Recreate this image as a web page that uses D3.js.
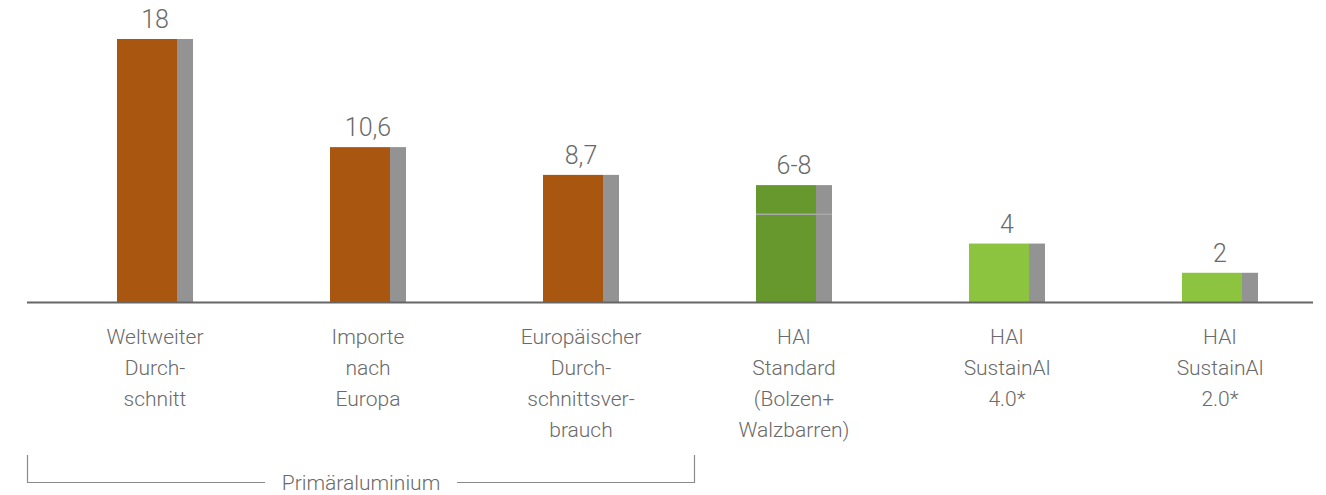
<!DOCTYPE html>
<html><head><meta charset="utf-8">
<script src="https://cdn.jsdelivr.net/npm/d3@7"></script>
<style>html,body{margin:0;padding:0;background:#fff;}svg{display:block;}</style>
</head><body>
<svg id="c" width="1326" height="495"></svg>
<script>
const categories = ["Weltweiter|Durch-|schnitt","Importe|nach|Europa","Europäischer|Durch-|schnittsver-|brauch","HAI|Standard|(Bolzen+|Walzbarren)","HAI|SustainAl|4.0*","HAI|SustainAl|2.0*"];
const values = [18, 10.6, 8.7, 8, 4, 2];
const lowValues = [null, null, null, 6, null, null];
const valueLabels = ["18","10,6","8,7","6-8","4","2"];
const barColors = ["#A95710","#A95710","#A95710","#66982D","#8CC43F","#8CC43F"];
const groupLabel = "Primäraluminium";

const svg = d3.select("#c");
const font = "Roboto, 'Helvetica Neue', sans-serif";
const textColor = "#6a6a6a";
const x = d3.scalePoint().domain(d3.range(categories.length)).range([48.5, 1326.5]).padding(0.5);
const y = d3.scaleLinear().domain([0, 18]).range([302, 39]);
const mainW = 60, shadowW = 16;

const g = svg.append("g");
g.selectAll("rect.sh").data(values).join("rect")
  .attr("x", (d,i)=> x(i) - 38 + mainW).attr("y", d=>y(d))
  .attr("width", shadowW).attr("height", d=> y(0)-y(d)).attr("fill", "#939393");
g.selectAll("rect.m").data(values).join("rect")
  .attr("x", (d,i)=> x(i) - 38).attr("y", d=>y(d))
  .attr("width", mainW).attr("height", d=> y(0)-y(d)).attr("fill", (d,i)=>barColors[i]);
lowValues.forEach((v,i)=>{ if(v!==null){
  g.append("line").attr("x1", x(i)-38).attr("x2", x(i)+38).attr("y1", y(v)).attr("y2", y(v))
   .attr("stroke","#a8a8a8").attr("stroke-width",1.5);
}});
g.selectAll("text.v").data(valueLabels).join("text")
  .attr("x",(d,i)=>x(i)).attr("y",(d,i)=>y(values[i]) - 11)
  .attr("text-anchor","middle").attr("font-family",font).attr("font-weight",300)
  .attr("font-size",25).attr("fill",textColor).text(d=>d);
g.append("line").attr("x1",27).attr("x2",1313).attr("y1",y(0)+0.5).attr("y2",y(0)+0.5)
  .attr("stroke","#666").attr("stroke-width",2);
categories.forEach((c,i)=>{
  const t = g.append("text").attr("text-anchor","middle").attr("font-family",font).attr("font-weight",300)
    .attr("font-size",21).attr("fill",textColor);
  c.split("|").forEach((line,j)=>{
    t.append("tspan").attr("x", x(i)).attr("y", 344 + j*31).text(line);
  });
});
const bx1 = 27.5, bx2 = 694.5, by = 482.5, btop = 455;
g.append("path").attr("d", `M${bx1},${btop}V${by}H265`).attr("fill","none").attr("stroke","#8a8a8a").attr("stroke-width",1.2);
g.append("path").attr("d", `M457,${by}H${bx2}V${btop}`).attr("fill","none").attr("stroke","#8a8a8a").attr("stroke-width",1.2);
g.append("text").attr("x",361).attr("y",490).attr("text-anchor","middle").attr("font-family",font).attr("font-weight",300)
  .attr("font-size",21).attr("fill",textColor).text(groupLabel);
</script>
</body></html>
